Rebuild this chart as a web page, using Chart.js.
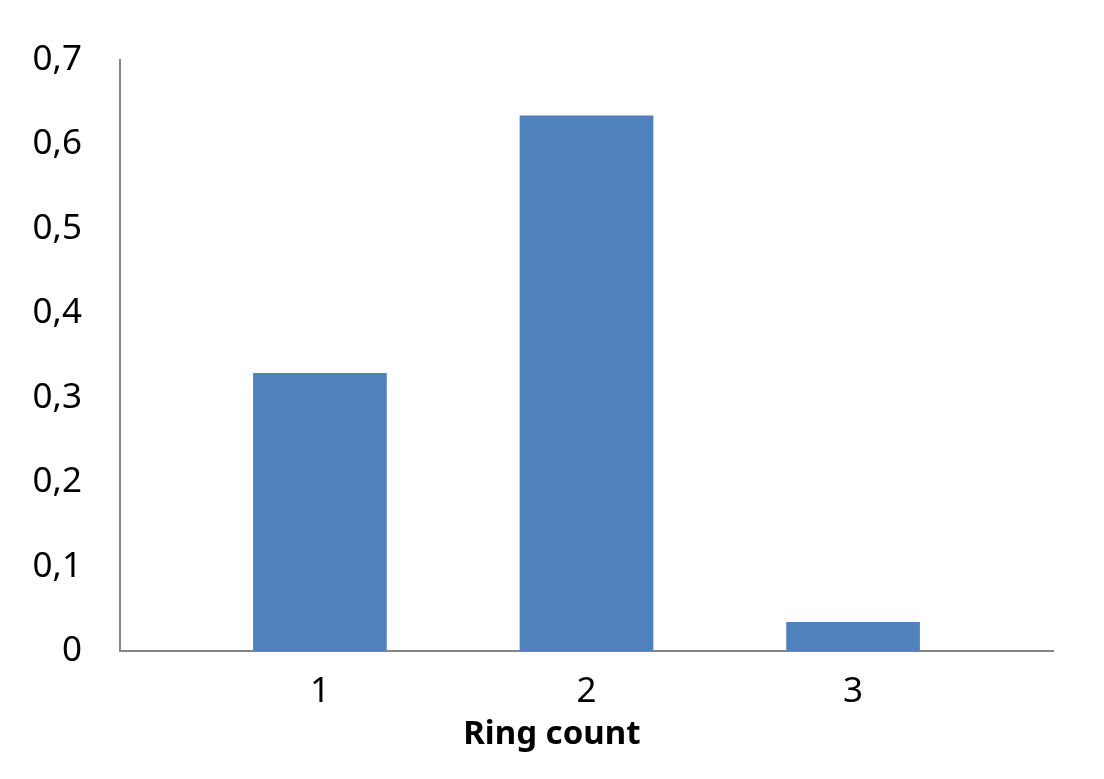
<!DOCTYPE html>
<html>
<head>
<meta charset="utf-8">
<script src="https://cdn.jsdelivr.net/npm/chart.js@4/dist/chart.umd.min.js"></script>
<style>
html,body{margin:0;padding:0;background:#fff;}
#wrap{width:1104px;height:779px;position:relative;}
</style>
</head>
<body>
<div id="wrap"><canvas id="c" width="1104" height="779"></canvas></div>
<script>
const categories = [1, 2, 3];
const shares = [0.329, 0.634, 0.034];
const yTicks = [0, 0.1, 0.2, 0.3, 0.4, 0.5, 0.6, 0.7];
const xTitle = 'Ring count';

const fmt = v => (Math.abs(v) < 1e-9 ? '0' : v.toFixed(1).replace('.', ','));

const titlePlugin = {
  id: 'xTitle',
  afterDraw(chart) {
    const s = chart.scales.x;
    const ctx = chart.ctx;
    ctx.save();
    ctx.fillStyle = '#000';
    ctx.font = 'bold 33px "Noto Sans"';
    ctx.textAlign = 'center';
    ctx.textBaseline = 'middle';
    ctx.fillText(xTitle, s.getPixelForValue(1.87), s.bottom - 44);
    ctx.restore();
  }
};

new Chart(document.getElementById('c'), {
  type: 'bar',
  data: {
    datasets: [{
      data: categories.map((c, i) => ({x: c, y: shares[i]})),
      backgroundColor: '#4F81BD',
      borderWidth: 0,
      barThickness: 133
    }]
  },
  plugins: [titlePlugin],
  options: {
    responsive: false,
    animation: false,
    devicePixelRatio: 1,
    layout: {padding: {top: 60, right: 51, left: 0, bottom: 0}},
    plugins: {legend: {display: false}, tooltip: {enabled: false}},
    scales: {
      x: {
        type: 'linear',
        offset: false,
        bounds: 'ticks',
        min: 0.25,
        max: 3.75,
        afterBuildTicks: s => { s.ticks = categories.map(v => ({value: v})); },
        afterFit: s => { s.height = 128; },
        grid: {display: false, offset: false},
        border: {display: true, color: '#868686', width: 2},
        ticks: {
          color: '#000',
          font: {family: 'Noto Sans', size: 35},
          padding: 12,
          maxRotation: 0,
          autoSkip: false,
          callback: v => String(v)
        },
        title: {display: false}
      },
      y: {
        min: 0,
        max: 0.7,
        afterBuildTicks: s => { s.ticks = yTicks.map(v => ({value: v})); },
        afterFit: s => { s.width = 120; },
        grid: {display: false},
        border: {display: true, color: '#868686', width: 2},
        ticks: {
          color: '#000',
          font: {family: 'Noto Sans', size: 35},
          padding: 30,
          callback: v => fmt(v)
        }
      }
    }
  }
});
</script>
</body>
</html>
